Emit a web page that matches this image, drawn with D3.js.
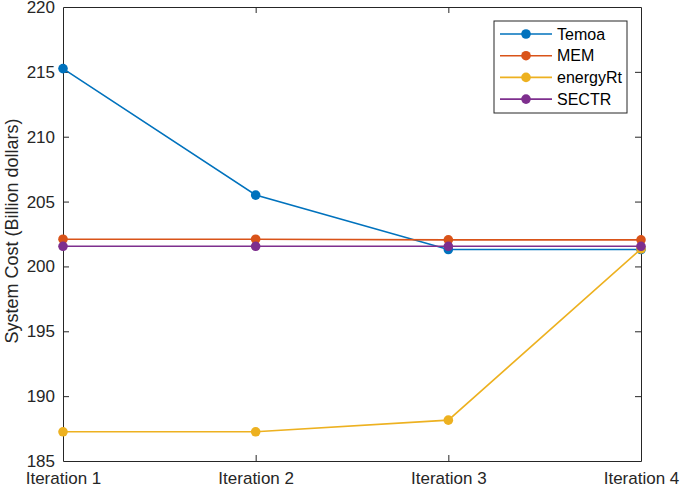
<!DOCTYPE html>
<html>
<head>
<meta charset="utf-8">
<script src="https://cdn.jsdelivr.net/npm/d3@7"></script>
<style>
  body { margin: 0; background: #fff; }
  text { font-family: "Liberation Sans", Arial, sans-serif; }
</style>
</head>
<body>
<div id="chart"></div>
<script>
// chart values
var iterations = ["Iteration 1", "Iteration 2", "Iteration 3", "Iteration 4"];
var temoa    = [215.25, 205.5, 201.3, 201.3];
var mem      = [202.1, 202.1, 202.05, 202.05];
var energyRt = [187.25, 187.25, 188.15, 201.35];
var sectr    = [201.55, 201.55, 201.55, 201.55];
var seriesNames = ["Temoa", "MEM", "energyRt", "SECTR"];
var yTicks = [185, 190, 195, 200, 205, 210, 215, 220];

var colors = ["#0072BD", "#D95319", "#EDB120", "#7E2F8E"];
var series = [temoa, mem, energyRt, sectr].map(function (v, i) {
  return { name: seriesNames[i], values: v, color: colors[i] };
});

var W = 680, H = 490;
var m = { left: 63, right: 39, top: 7, bottom: 29 };
var axisColor = "#262626";

var svg = d3.select("#chart").append("svg")
  .attr("width", W).attr("height", H);

var x = d3.scalePoint().domain(iterations).range([m.left, W - m.right]);
var y = d3.scaleLinear().domain([185, 220]).range([H - m.bottom, m.top]);

// axes box with inward ticks (MATLAB style)
var g = svg.append("g");
var axB = g.append("g").attr("transform", "translate(0," + (H - m.bottom) + ")")
  .call(d3.axisBottom(x).tickSizeInner(-6).tickSizeOuter(0).tickPadding(11));
var axT = g.append("g").attr("transform", "translate(0," + m.top + ")")
  .call(d3.axisTop(x).tickSizeInner(-6).tickSizeOuter(0).tickFormat(""));
var axL = g.append("g").attr("transform", "translate(" + m.left + ",0)")
  .call(d3.axisLeft(y).tickValues(yTicks).tickSizeInner(-6).tickSizeOuter(0).tickPadding(8));
var axR = g.append("g").attr("transform", "translate(" + (W - m.right) + ",0)")
  .call(d3.axisRight(y).tickValues(yTicks).tickSizeInner(-6).tickSizeOuter(0).tickFormat(""));

[axB, axT, axL, axR].forEach(function (a) {
  a.selectAll("path, line").attr("stroke", axisColor).attr("stroke-width", 1);
  a.selectAll("text").attr("fill", axisColor).style("font-size", "17px");
});
[axB, axT].forEach(function (a) {
  a.selectAll(".tick line").filter(function (d, i) { return i === 0 || i === 3; }).remove();
});
[axL, axR].forEach(function (a) {
  a.selectAll(".tick line").filter(function (d, i) { return i === 0 || i === yTicks.length - 1; }).remove();
});

svg.append("text")
  .attr("transform", "translate(12," + ((m.top + H - m.bottom) / 2 - 3) + ") rotate(-90)")
  .attr("text-anchor", "middle")
  .attr("dy", "0.35em")
  .attr("fill", axisColor)
  .style("font-size", "18px")
  .text("System Cost (Billion dollars)");

var line = d3.line()
  .x(function (d, i) { return x(iterations[i]); })
  .y(function (d) { return y(d); });

series.forEach(function (s) {
  svg.append("path")
    .datum(s.values)
    .attr("fill", "none")
    .attr("stroke", s.color)
    .attr("stroke-width", 1.6)
    .attr("d", line);
  svg.selectAll(null)
    .data(s.values)
    .enter().append("circle")
    .attr("cx", function (d, i) { return x(iterations[i]); })
    .attr("cy", function (d) { return y(d); })
    .attr("r", 4.8)
    .attr("fill", s.color);
});

// legend
var lg = svg.append("g").attr("transform", "translate(494,21)");
lg.append("rect")
  .attr("width", 133).attr("height", 92)
  .attr("fill", "#fff").attr("stroke", axisColor).attr("stroke-width", 1);
series.forEach(function (s, i) {
  var yy = 13 + i * 21.7;
  lg.append("line")
    .attr("x1", 6).attr("x2", 58).attr("y1", yy).attr("y2", yy)
    .attr("stroke", s.color).attr("stroke-width", 1.6);
  lg.append("circle").attr("cx", 32).attr("cy", yy).attr("r", 4.8).attr("fill", s.color);
  lg.append("text")
    .attr("x", 63).attr("y", yy).attr("dy", "0.35em")
    .attr("fill", "#000")
    .style("font-size", "16px")
    .text(s.name);
});
</script>
</body>
</html>
